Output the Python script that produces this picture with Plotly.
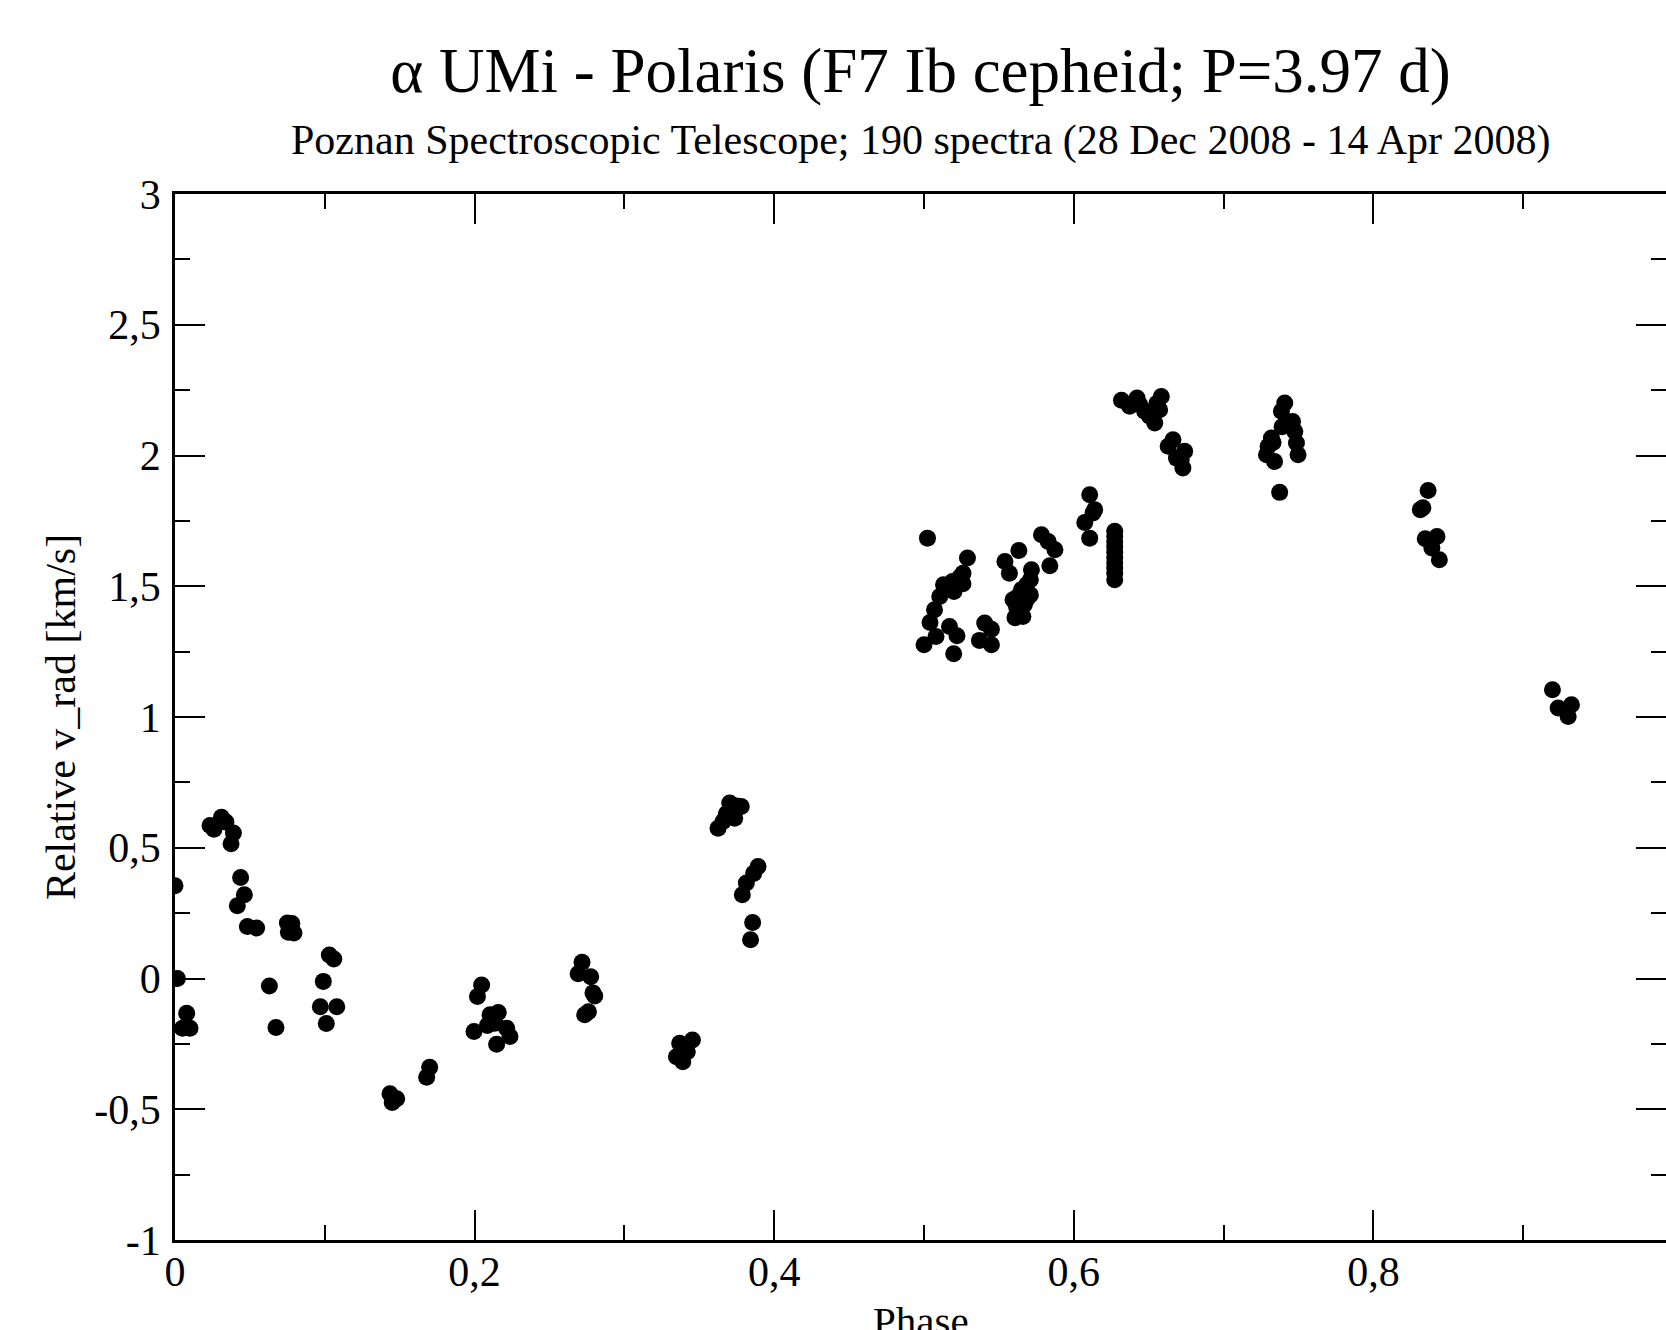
import plotly.graph_objects as go

# Phase-folded relative radial velocities
phase = [
    0.000, 0.0016, 0.0078, 0.005, 0.010,
    0.0234, 0.026, 0.031, 0.034, 0.039, 0.0374, 0.0438, 0.0463, 0.0416, 0.0483, 0.0545,
    0.063, 0.0674,
    0.075, 0.078, 0.0757, 0.0794,
    0.103, 0.106, 0.099, 0.097, 0.108, 0.101,
    0.1435, 0.146, 0.148, 0.145,
    0.170, 0.168,
    0.2047, 0.2019, 0.2103, 0.2158, 0.2136, 0.1996, 0.2214, 0.2236, 0.2147, 0.2085,
    0.2717, 0.2691, 0.2775, 0.2802, 0.279, 0.2735, 0.276,
    0.3347, 0.3369, 0.3403, 0.3454, 0.339, 0.342,
    0.3703, 0.3780, 0.3736, 0.3625, 0.3658, 0.368, 0.375,
    0.3892, 0.3863, 0.3814, 0.3787, 0.3856, 0.3842,
    0.5023, 0.529, 0.526, 0.519, 0.5225, 0.526, 0.513, 0.520, 0.5105, 0.507, 0.504,
    0.508, 0.500, 0.517, 0.522, 0.5198, 0.5155, 0.524,
    0.5405, 0.545, 0.537, 0.545,
    0.554, 0.557, 0.5633, 0.5717, 0.571, 0.5685, 0.565, 0.571, 0.5594, 0.5617, 0.5628,
    0.566, 0.5607, 0.564, 0.5685, 0.5625, 0.567,
    0.5784, 0.5829, 0.5874, 0.584,
    0.6106, 0.6139, 0.6128, 0.6073, 0.6106,
    0.6273, 0.6273, 0.6273, 0.6273, 0.6273, 0.6273, 0.6273, 0.6273, 0.6273, 0.6273,
    0.6318, 0.6422, 0.6373, 0.6584, 0.6573, 0.6473, 0.6506, 0.654, 0.644, 0.6555,
    0.6662, 0.663, 0.674, 0.6685, 0.6717, 0.6728,
    0.7408, 0.7386, 0.746, 0.7475, 0.7486, 0.7497, 0.7319, 0.7297, 0.7286, 0.734, 0.739,
    0.7374, 0.733,
    0.8365, 0.8313, 0.833, 0.8346, 0.8424, 0.839, 0.844,
    0.9195, 0.9233, 0.9322, 0.930,
]
v_rad = [
    0.355, 0.000, -0.133, -0.19, -0.19,
    0.585, 0.571, 0.617, 0.598, 0.556, 0.515, 0.386, 0.320, 0.278, 0.199, 0.193,
    -0.029, -0.187,
    0.212, 0.21, 0.177, 0.174,
    0.090, 0.075, -0.011, -0.108, -0.108, -0.172,
    -0.441, -0.458, -0.46, -0.474,
    -0.339, -0.378,
    -0.025, -0.069, -0.139, -0.130, -0.171, -0.203, -0.190, -0.222, -0.251, -0.18,
    0.062, 0.018, 0.007, -0.067, -0.055, -0.139, -0.127,
    -0.299, -0.248, -0.26, -0.235, -0.318, -0.28,
    0.671, 0.658, 0.613, 0.575, 0.600, 0.63, 0.66,
    0.428, 0.402, 0.365, 0.320, 0.214, 0.148,
    1.684, 1.608, 1.550, 1.518, 1.52, 1.51, 1.506, 1.48, 1.461, 1.410, 1.361,
    1.308, 1.276, 1.346, 1.311, 1.242, 1.49, 1.535,
    1.359, 1.336, 1.293, 1.276,
    1.595, 1.55, 1.637, 1.563, 1.525, 1.506, 1.487, 1.467, 1.448, 1.423, 1.41,
    1.384, 1.38, 1.40, 1.45, 1.46, 1.43,
    1.697, 1.671, 1.640, 1.578,
    1.85, 1.793, 1.78, 1.744, 1.684,
    1.71, 1.69, 1.67, 1.65, 1.63, 1.61, 1.59, 1.57, 1.55, 1.525,
    2.211, 2.220, 2.188, 2.226, 2.175, 2.169, 2.150, 2.124, 2.195, 2.2,
    2.060, 2.035, 2.016, 1.990, 1.984, 1.952,
    2.201, 2.169, 2.130, 2.092, 2.048, 2.003, 2.067, 2.035, 2.003, 1.977, 2.11,
    1.859, 2.05,
    1.866, 1.793, 1.80, 1.682, 1.690, 1.646, 1.601,
    1.104, 1.034, 1.047, 1.002,
]

x_tickvals = [0, 0.2, 0.4, 0.6, 0.8]
x_ticktext = ["0", "0,2", "0,4", "0,6", "0,8"]
x_minor = [0.1, 0.3, 0.5, 0.7, 0.9]
y_tickvals = [-1, -0.5, 0, 0.5, 1, 1.5, 2, 2.5, 3]
y_ticktext = ["-1", "-0,5", "0", "0,5", "1", "1,5", "2", "2,5", "3"]
y_minor = [-0.75, -0.25, 0.25, 0.75, 1.25, 1.75, 2.25, 2.75]

FONT = "Liberation Serif, Times New Roman, serif"

fig = go.Figure(
    go.Scatter(
        x=phase, y=v_rad, mode="markers",
        marker=dict(size=17, color="black", line=dict(width=0)),
        showlegend=False,
    )
)

axis_common = dict(
    showline=True, linecolor="black", linewidth=2.5, mirror="ticks",
    ticks="inside", ticklen=30, tickwidth=1.5, tickcolor="black",
    showgrid=False, zeroline=False,
    tickfont=dict(family=FONT, size=42, color="black"),
)

fig.update_xaxes(
    range=[0, 0.9953], tickmode="array", tickvals=x_tickvals, ticktext=x_ticktext,
    minor=dict(tickmode="array", tickvals=x_minor, ticks="inside", ticklen=15,
               tickwidth=1.5, tickcolor="black", showgrid=False),
    automargin=False, ticklabelstandoff=-7,
    **axis_common,
)
fig.update_yaxes(
    range=[-1, 3], tickmode="array", tickvals=y_tickvals, ticktext=y_ticktext,
    minor=dict(tickmode="array", tickvals=y_minor, ticks="inside", ticklen=15,
               tickwidth=1.5, tickcolor="black", showgrid=False),
    title=dict(text="Relative v_rad [km/s]", font=dict(family=FONT, size=42, color="black"), standoff=6),
    automargin=False, ticklabelstandoff=3,
    **axis_common,
)

fig.update_layout(
    width=1666, height=1330,
    margin=dict(l=175, r=0, t=194, b=90),
    paper_bgcolor="white", plot_bgcolor="white",
    font=dict(family=FONT, color="black"),
    title=dict(
        text="α UMi - Polaris (F7 Ib cepheid; P=3.97 d)",
        font=dict(family=FONT, size=63, color="black"),
        x=0.5, xref="paper", xanchor="center",
        y=1 - 70 / 1330, yref="container", yanchor="middle",
    ),
    annotations=[
        dict(
            text="Poznan Spectroscopic Telescope; 190 spectra (28 Dec 2008 - 14 Apr 2008)",
            font=dict(family=FONT, size=42, color="black"),
            x=0.5, xref="paper", xanchor="center",
            y=1 + (194 - 140) / 1046, yref="paper", yanchor="middle",
            showarrow=False,
        ),
        dict(
            text="Phase",
            font=dict(family=FONT, size=41, color="black"),
            x=0.5, xref="paper", xanchor="center",
            y=-(1296 - 1240) / 1046, yref="paper", yanchor="top",
            showarrow=False,
        ),
    ],
)

fig.write_html(
    "out.html",
    config={"displayModeBar": False},
    post_script="document.body.style.margin='0';",
)
